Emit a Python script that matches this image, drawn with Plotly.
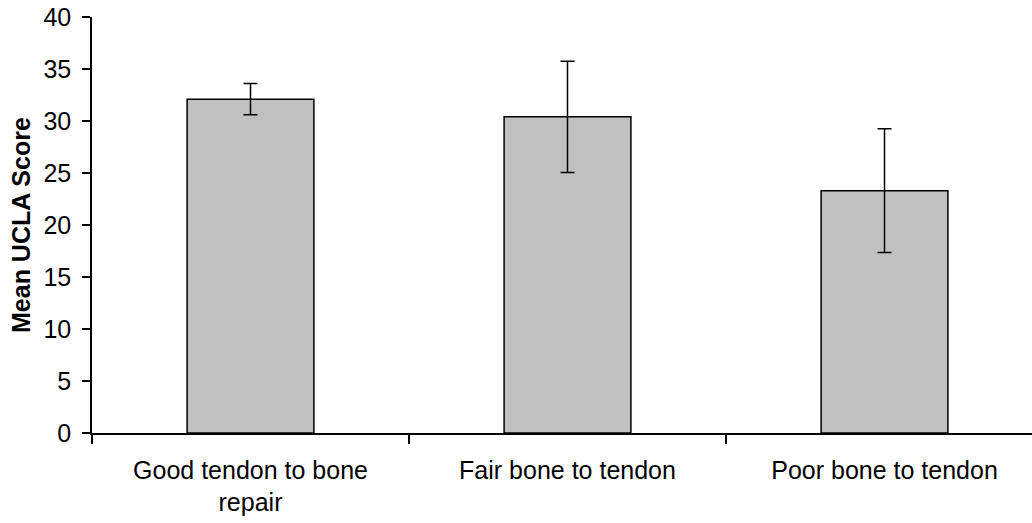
import plotly.graph_objects as go

# Mean UCLA score by quality of repair, with error bars
categories = ["Good tendon to bone<br>repair", "Fair bone to tendon", "Poor bone to tendon"]
mean_scores = [32.1, 30.4, 23.3]
error_values = [1.5, 5.35, 5.95]
y_ticks = [0, 5, 10, 15, 20, 25, 30, 35, 40]

W, H = 1032, 523
left, right, top, bottom = 92, 0, 17, 90
plot_w = W - left - right

FONT = "Liberation Sans, Arial, sans-serif"
FS = 25

fig = go.Figure(
    go.Bar(
        x=categories,
        y=mean_scores,
        marker=dict(color="#C0C0C0", line=dict(color="black", width=1.5)),
        error_y=dict(type="data", array=error_values, visible=True,
                     color="black", thickness=1.5, width=7),
        width=0.4,
    )
)

# category slot width in pixels; the last slot runs slightly past the right edge
slot_px = 317
x_max = plot_w / slot_px - 0.5

fig.update_layout(
    width=W, height=H,
    margin=dict(l=left, r=right, t=top, b=bottom, pad=0),
    paper_bgcolor="white", plot_bgcolor="white",
    font=dict(family=FONT, size=FS, color="black"),
    showlegend=False,
    xaxis=dict(
        type="category",
        range=[-0.5, x_max],
        tickson="boundaries",
        ticks="outside", ticklen=9, tickwidth=1.5, tickcolor="black",
        showline=True, linecolor="black", linewidth=1.5,
        showgrid=False, zeroline=False,
        ticklabelstandoff=14,
        tickfont=dict(family=FONT, size=FS, color="black"),
    ),
    yaxis=dict(
        range=[0, 40],
        tickvals=y_ticks,
        ticks="outside", ticklen=8, tickwidth=1.5, tickcolor="black",
        showline=True, linecolor="black", linewidth=1.5,
        showgrid=False, zeroline=False,
        ticklabelstandoff=6,
        tickfont=dict(family=FONT, size=FS, color="black"),
    ),
    annotations=[
        dict(
            text="<b>Mean UCLA Score</b>",
            textangle=-90,
            xref="paper", yref="paper",
            x=(21 - left) / plot_w, y=0.5,
            xanchor="center", yanchor="middle",
            showarrow=False,
            font=dict(family=FONT, size=FS, color="black"),
        )
    ],
)

fig.write_html("out.html")
